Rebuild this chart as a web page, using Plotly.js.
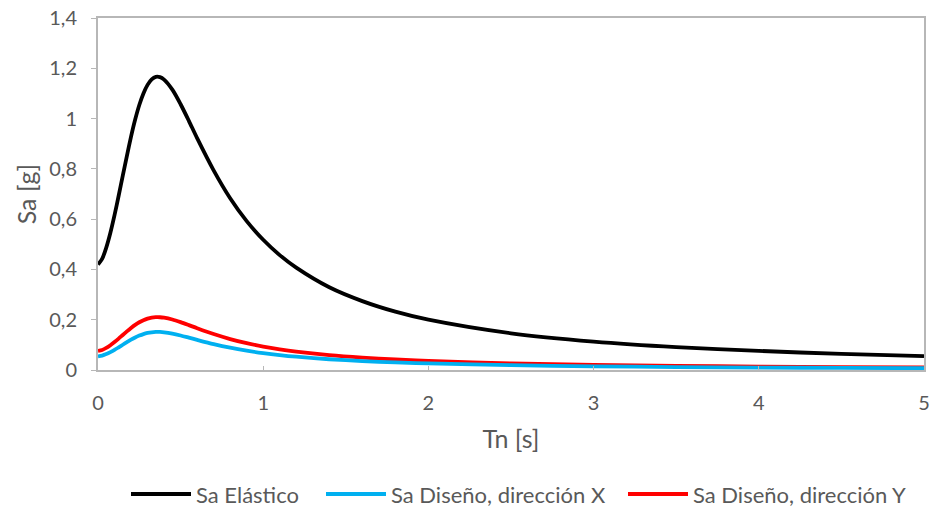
<!DOCTYPE html>
<html>
<head>
<meta charset="utf-8">
<script src="https://cdn.plot.ly/plotly-3.0.1.min.js"></script>
<style>html,body{margin:0;padding:0;background:#fff;}#chart{width:934px;height:510px;}</style>
</head>
<body>
<div id="chart"></div>
<script>
const tn = [0, 0.025, 0.05, 0.075, 0.1, 0.125, 0.15, 0.175, 0.2, 0.225, 0.25, 0.275, 0.3, 0.325, 0.35, 0.375, 0.4, 0.45, 0.5, 0.55, 0.6, 0.7, 0.8, 0.9, 1.0, 1.1, 1.2, 1.4, 1.6, 1.8, 2.0, 2.5, 3.0, 3.5, 4.0, 4.5, 5.0];
const saElastico = [0.420, 0.442, 0.487, 0.546, 0.616, 0.693, 0.773, 0.852, 0.928, 0.996, 1.054, 1.100, 1.134, 1.156, 1.166, 1.165, 1.155, 1.115, 1.057, 0.991, 0.922, 0.794, 0.683, 0.592, 0.518, 0.457, 0.407, 0.329, 0.274, 0.232, 0.200, 0.146, 0.113, 0.091, 0.076, 0.064, 0.055];
const saDisenoX = [0.0545, 0.0575, 0.0632, 0.0709, 0.080, 0.0900, 0.1004, 0.1106, 0.1205, 0.1293, 0.1368, 0.1429, 0.1473, 0.1501, 0.1514, 0.1513, 0.150, 0.1448, 0.1373, 0.1286, 0.1198, 0.1031, 0.0887, 0.0769, 0.0672, 0.0593, 0.0528, 0.0428, 0.0355, 0.0302, 0.026, 0.019, 0.0147, 0.0118, 0.0098, 0.0083, 0.0072];
const saDisenoY = [0.0757, 0.0797, 0.0877, 0.0984, 0.111, 0.1248, 0.1393, 0.1535, 0.1671, 0.1794, 0.1899, 0.1982, 0.2044, 0.2083, 0.210, 0.2099, 0.2081, 0.2009, 0.1904, 0.1785, 0.1662, 0.143, 0.1231, 0.1067, 0.0933, 0.0823, 0.0732, 0.0593, 0.0493, 0.0418, 0.0361, 0.0264, 0.0204, 0.0164, 0.0136, 0.0115, 0.0099];
const seriesNames = ['Sa Elástico', 'Sa Diseño, dirección X', 'Sa Diseño, dirección Y'];
const seriesColors = ['#000000', '#00b0f0', '#ff0000'];
const legendIds = ['legend', 'legend2', 'legend3'];
const legendX = [126, 321, 623];

const font = 'Lato, "Open Sans", sans-serif';
const traces = [saElastico, saDisenoX, saDisenoY].map((ys, i) => ({
  x: tn, y: ys, name: seriesNames[i], type: 'scatter', mode: 'lines', legend: legendIds[i],
  line: {color: seriesColors[i], width: 3.8, shape: 'spline', smoothing: 0.8}
}));
traces.reverse();

const layout = {
  width: 934, height: 510,
  margin: {l: 98, r: 10, t: 18, b: 140, autoexpand: false},
  paper_bgcolor: '#fff', plot_bgcolor: '#fff',
  separators: ',.',
  font: {family: font, color: '#595959', size: 20},
  showlegend: true,
  xaxis: {range: [0, 5], dtick: 1, showgrid: false, zeroline: false,
          showline: true, linecolor: '#b7b7b7', linewidth: 2, mirror: true,
          ticks: 'inside', ticklen: 4, tickcolor: '#b7b7b7', ticklabelstandoff: 14,
          tickfont: {size: 20, color: '#595959'},
          title: {text: 'Tn [s]', font: {size: 25, color: '#595959'}, standoff: 17}},
  yaxis: {range: [0, 1.4], dtick: 0.2, showgrid: false, zeroline: false,
          showline: true, linecolor: '#b7b7b7', linewidth: 2, mirror: true,
          ticks: 'outside', ticklen: 5, tickcolor: '#b7b7b7', ticklabelstandoff: 10,
          tickfont: {size: 20, color: '#595959'},
          title: {text: 'Sa [g]', font: {size: 25, color: '#595959'}, standoff: 6}}
};
legendIds.forEach((id, i) => {
  layout[id] = {orientation: 'h', xref: 'container', x: legendX[i] / 934, xanchor: 'left',
                yref: 'container', y: 0.031, yanchor: 'middle',
                itemwidth: 60, font: {size: 22, color: '#595959'}};
});
Plotly.newPlot('chart', traces, layout, {displayModeBar: false, staticPlot: true});
</script>
</body>
</html>
